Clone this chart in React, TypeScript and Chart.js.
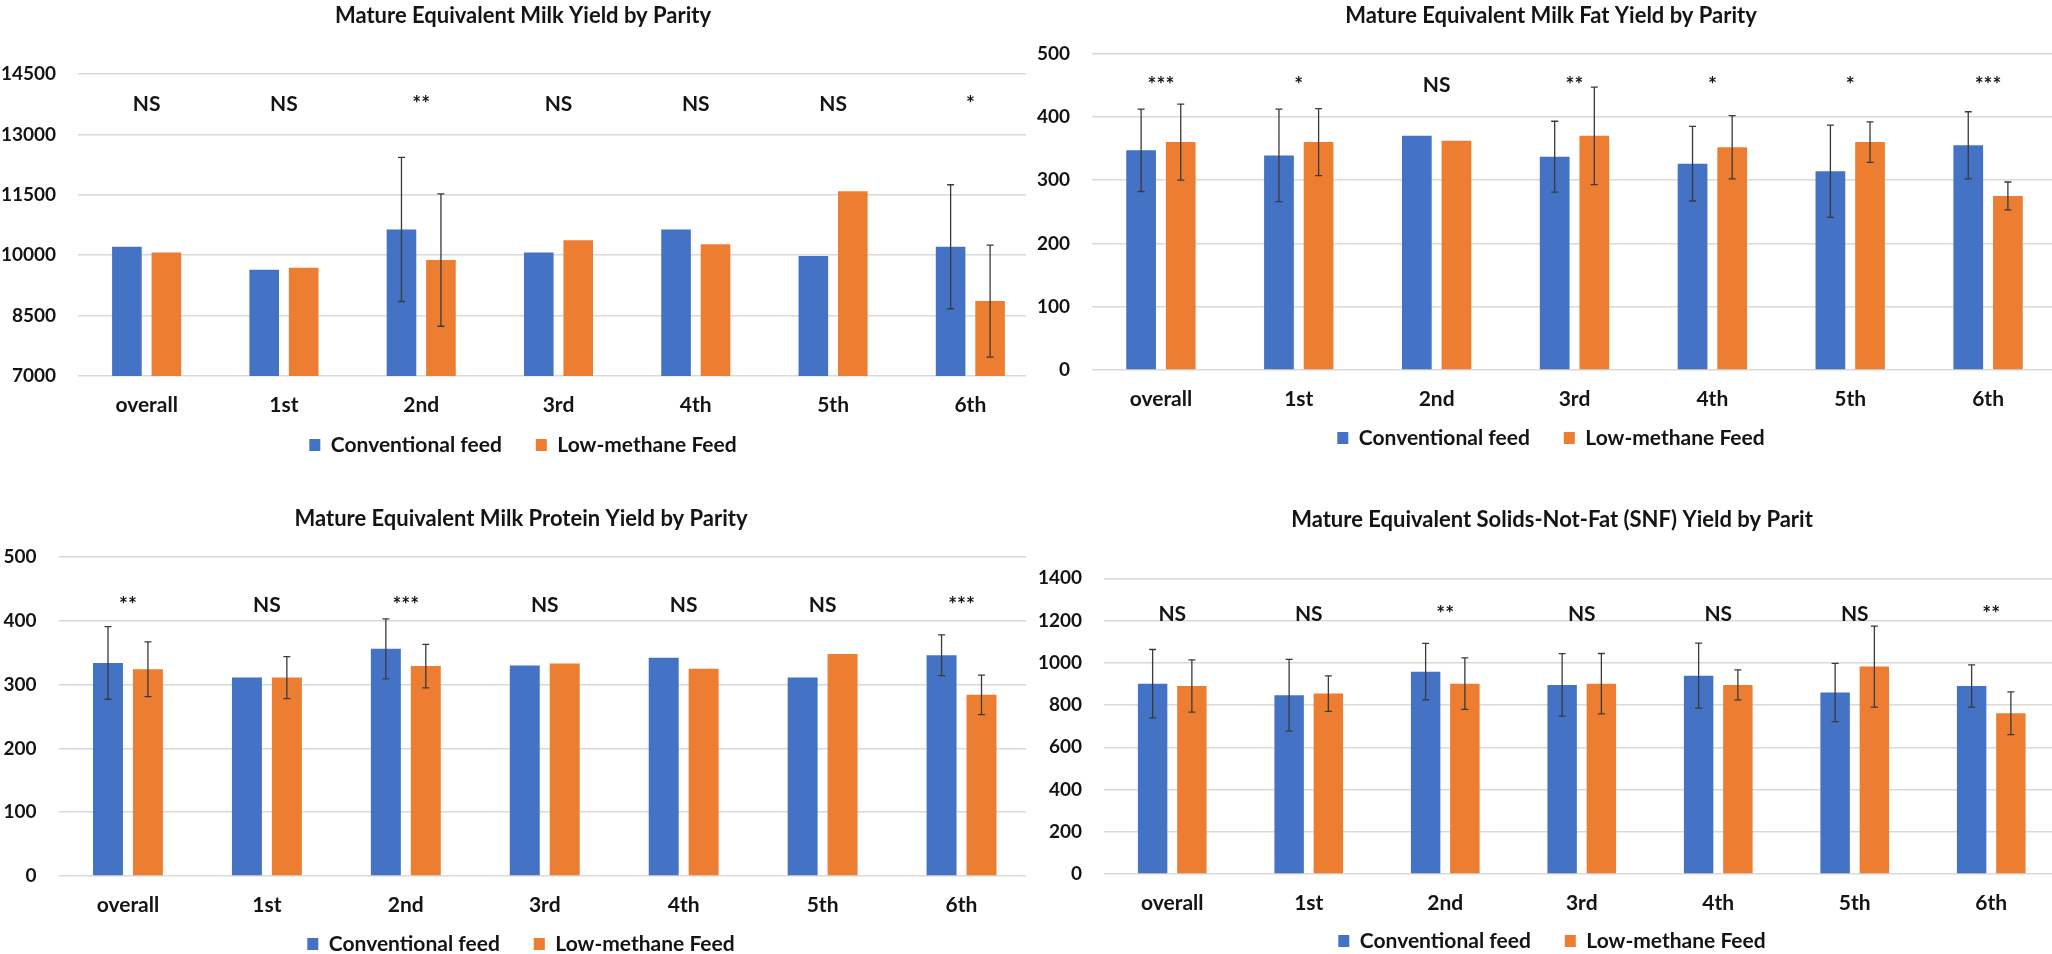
import React, { useEffect, useRef } from 'react';
import { Chart, registerables } from 'chart.js';

Chart.register(...registerables);

// ---------- data ----------
const categories = ['overall', '1st', '2nd', '3rd', '4th', '5th', '6th'];
const seriesNames = ['Conventional feed', 'Low-methane Feed'];

const milkTitle = 'Mature Equivalent Milk Yield by Parity';
const milkConv = [10210, 9640, 10640, 10070, 10640, 9980, 10210];
const milkLow = [10070, 9690, 9880, 10370, 10270, 11590, 8860];
const milkConvSD = [null, null, 1790, null, null, null, 1540];
const milkLowSD = [null, null, 1645, null, null, null, 1390];
const milkSig = ['NS', 'NS', '**', 'NS', 'NS', 'NS', '*'];
const milkSigLevel = 13750;
const milkTicks = { min: 7000, max: 14500, step: 1500 };

const fatTitle = 'Mature Equivalent Milk Fat Yield by Parity';
const fatConv = [347, 339, 370, 337, 326, 314, 355];
const fatLow = [360, 360, 362, 370, 352, 360, 275];
const fatConvSD = [65, 73, null, 56, 59, 73, 53];
const fatLowSD = [60, 53, null, 77, 50, 32, 22];
const fatSig = ['***', '*', 'NS', '**', '*', '*', '***'];
const fatSigLevel = 450;
const fatTicks = { min: 0, max: 500, step: 100 };

const protTitle = 'Mature Equivalent Milk Protein Yield by Parity';
const protConv = [334, 311, 356, 330, 342, 311, 346];
const protLow = [324, 311, 329, 333, 325, 348, 284];
const protConvSD = [57, null, 47, null, null, null, 32];
const protLowSD = [43, 33, 34, null, null, null, 31];
const protSig = ['**', 'NS', '***', 'NS', 'NS', 'NS', '***'];
const protSigLevel = 425;
const protTicks = { min: 0, max: 500, step: 100 };

const snfTitle = 'Mature Equivalent Solids-Not-Fat (SNF) Yield by Parit';
const snfConv = [901, 846, 958, 895, 939, 859, 890];
const snfLow = [890, 854, 901, 901, 895, 982, 761];
const snfConvSD = [162, 170, 134, 148, 154, 138, 100];
const snfLowSD = [124, 84, 122, 143, 71, 192, 101];
const snfSig = ['NS', 'NS', '**', 'NS', 'NS', 'NS', '**'];
const snfSigLevel = 1230;
const snfTicks = { min: 0, max: 1400, step: 200 };

// ---------- styles ----------
const BLUE = '#4472C4';
const ORANGE = '#ED7D31';
const TEXT = '#141414';
const GRID = '#D9D9D9';
const ERR = '#3a3a3a';
const FONT = 'Lato';
const TITLE_SIZE = 22;
const LABEL_SIZE = 21;
const TICK_SIZE = 19;
const LEGEND_PAD = 34;

type Layout = {
  left: number; top: number; canvasH: number;
  plotLeft: number; plotRight: number; plotTop: number; plotBottom: number;
  titleCX: number; titleCY: number; legendCY: number;
};

type PanelProps = {
  layout: Layout;
  title: string;
  conv: number[]; low: number[];
  convSD: (number | null)[]; lowSD: (number | null)[];
  sig: string[]; sigLevel: number;
  ticks: { min: number; max: number; step: number };
};

function Panel(p: PanelProps) {
  const ref = useRef<HTMLCanvasElement | null>(null);
  const L = p.layout;
  const W = Math.round(2 * L.titleCX);
  const rightGap = W - L.plotRight;
  const yAxisWidth = L.plotLeft;
  const titleLH = TITLE_SIZE * 1.2;
  const titlePadTop = L.titleCY - titleLH / 2;
  const titlePadBottom = L.plotTop - L.titleCY - titleLH / 2;
  const itemH = LABEL_SIZE;
  const legendTop = L.legendCY - LEGEND_PAD - itemH / 2;
  const legendH = itemH + LEGEND_PAD + 10;
  const padBottom = L.canvasH - legendTop - legendH;
  const xAxisHeight = legendTop - L.plotBottom;
  const labelOffset = 29; // centre of category labels below the plot
  const xTickPad = -(labelOffset + (LABEL_SIZE * 1.2) / 2);

  useEffect(() => {
    if (!ref.current) return;
    const sds = [p.convSD, p.lowSD];
    const errorBars = {
      id: 'errorBars',
      afterDatasetsDraw(chart: any) {
        const ctx = chart.ctx;
        const ys = chart.scales.y;
        ctx.save();
        ctx.strokeStyle = ERR;
        ctx.lineWidth = 1.3;
        chart.data.datasets.forEach((ds: any, i: number) => {
          const meta = chart.getDatasetMeta(i);
          meta.data.forEach((el: any, j: number) => {
            const e = sds[i][j];
            if (e == null) return;
            const v = ds.data[j];
            const x = el.x;
            const yt = ys.getPixelForValue(v + e);
            const yb = ys.getPixelForValue(v - e);
            const cap = 3.5;
            ctx.beginPath();
            ctx.moveTo(x, yt); ctx.lineTo(x, yb);
            ctx.moveTo(x - cap, yt); ctx.lineTo(x + cap, yt);
            ctx.moveTo(x - cap, yb); ctx.lineTo(x + cap, yb);
            ctx.stroke();
          });
        });
        ctx.restore();
      },
    };
    const sigLabels = {
      id: 'sigLabels',
      afterDatasetsDraw(chart: any) {
        const ctx = chart.ctx;
        const xs = chart.scales.x;
        const ys = chart.scales.y;
        ctx.save();
        ctx.font = `bold ${LABEL_SIZE}px ${FONT}`;
        ctx.fillStyle = TEXT;
        ctx.textAlign = 'center';
        ctx.textBaseline = 'middle';
        p.sig.forEach((t, j) => {
          ctx.fillText(t, xs.getPixelForValue(j), ys.getPixelForValue(p.sigLevel));
        });
        ctx.restore();
      },
    };
    const chart = new Chart(ref.current, {
      type: 'bar',
      data: {
        labels: categories,
        datasets: [
          { label: seriesNames[0], data: p.conv, backgroundColor: BLUE, borderWidth: 0, yAxisID: 'y' },
          { label: seriesNames[1], data: p.low, backgroundColor: ORANGE, borderWidth: 0, yAxisID: 'y' },
        ],
      },
      options: {
        responsive: false,
        animation: false,
        layout: { padding: { top: 0, left: 0, right: 0, bottom: padBottom } },
        datasets: { bar: { categoryPercentage: 0.575, barPercentage: 0.75 } },
        scales: {
          x: {
            grid: { display: false, drawTicks: false },
            border: { display: false },
            ticks: {
              color: TEXT,
              mirror: true,
              padding: xTickPad,
              font: { family: FONT, size: LABEL_SIZE, weight: 'bold' },
              maxRotation: 0,
              autoSkip: false,
            },
            afterFit: (s: any) => { s.height = xAxisHeight; },
          },
          y: {
            position: 'left',
            min: p.ticks.min,
            max: p.ticks.max,
            grid: { color: GRID, lineWidth: 1.5, drawTicks: false },
            border: { display: false },
            ticks: {
              stepSize: p.ticks.step,
              color: TEXT,
              padding: 22,
              font: { family: FONT, size: TICK_SIZE, weight: 'bold' },
              callback: (v: any) => String(v),
            },
            afterFit: (s: any) => { s.width = yAxisWidth; },
          },
          gap: {
            type: 'linear',
            position: 'right',
            display: true,
            grid: { display: false, drawTicks: false },
            border: { display: false },
            ticks: { display: false },
            afterFit: (s: any) => { s.width = rightGap; },
          },
        },
        plugins: {
          title: {
            display: true,
            text: p.title,
            color: TEXT,
            font: { family: FONT, size: TITLE_SIZE, weight: 'bold' },
            padding: { top: titlePadTop, bottom: titlePadBottom },
          },
          legend: {
            display: true,
            position: 'bottom',
            labels: {
              color: TEXT,
              boxWidth: 11,
              boxHeight: 12,
              padding: LEGEND_PAD,
              font: { family: FONT, size: LABEL_SIZE, weight: 'bold' },
            },
          },
          tooltip: { enabled: false },
        },
      } as any,
      plugins: [errorBars, sigLabels],
    });
    return () => chart.destroy();
  }, []);

  return (
    <div style={{ position: 'absolute', left: L.left, top: L.top, width: 1026, height: 477, overflow: 'hidden' }}>
      <canvas ref={ref} width={W} height={L.canvasH} style={{ display: 'block', width: W, height: L.canvasH }} />
    </div>
  );
}

const layouts: Layout[] = [
  { left: 0, top: 0, canvasH: 477, plotLeft: 78, plotRight: 1039, plotTop: 74, plotBottom: 376, titleCX: 523, titleCY: 16, legendCY: 445 },
  { left: 1026, top: 0, canvasH: 477, plotLeft: 66, plotRight: 1031, plotTop: 53.5, plotBottom: 370, titleCX: 525, titleCY: 16, legendCY: 438 },
  { left: 0, top: 477, canvasH: 500, plotLeft: 58.5, plotRight: 1031, plotTop: 80, plotBottom: 399, titleCX: 521, titleCY: 42, legendCY: 467 },
  { left: 1026, top: 477, canvasH: 500, plotLeft: 78, plotRight: 1033.5, plotTop: 101.3, plotBottom: 397, titleCX: 526, titleCY: 43, legendCY: 464 },
];

export default function App() {
  return (
    <div style={{ position: 'absolute', left: 0, top: 0, width: 2052, height: 954, overflow: 'hidden', background: '#fff' }}>
      <Panel layout={layouts[0]} title={milkTitle} conv={milkConv} low={milkLow} convSD={milkConvSD} lowSD={milkLowSD} sig={milkSig} sigLevel={milkSigLevel} ticks={milkTicks} />
      <Panel layout={layouts[1]} title={fatTitle} conv={fatConv} low={fatLow} convSD={fatConvSD} lowSD={fatLowSD} sig={fatSig} sigLevel={fatSigLevel} ticks={fatTicks} />
      <Panel layout={layouts[2]} title={protTitle} conv={protConv} low={protLow} convSD={protConvSD} lowSD={protLowSD} sig={protSig} sigLevel={protSigLevel} ticks={protTicks} />
      <Panel layout={layouts[3]} title={snfTitle} conv={snfConv} low={snfLow} convSD={snfConvSD} lowSD={snfLowSD} sig={snfSig} sigLevel={snfSigLevel} ticks={snfTicks} />
    </div>
  );
}
